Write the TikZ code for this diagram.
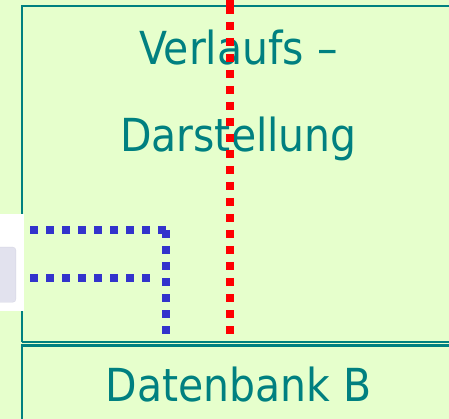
\documentclass[tikz,border=0pt]{standalone}
\usepackage{fontspec}
\setmainfont{DejaVu Sans Condensed}
\usepackage{xcolor}
\definecolor{bggreen}{HTML}{E6FFCC}
\definecolor{petrol}{HTML}{008080}
\definecolor{dotblue}{HTML}{3333CC}
\definecolor{panelfill}{HTML}{E2E2EE}
\definecolor{panelline}{HTML}{D6D6E4}

\begin{document}
\begin{tikzpicture}[x=1pt,y=-1pt,
    box/.style={rectangle,anchor=north west,inner sep=0pt,outer sep=0pt},
    frame/.style={petrol,line width=2.2pt},
    title/.style={text=petrol,anchor=base,font=\fontsize{45.5}{50}\selectfont,inner sep=0pt},
    bluedot/.style={dotblue,line width=8pt,dash pattern=on 8pt off 8pt},
    reddot/.style={red,line width=8pt,dash pattern=on 8pt off 8pt}]
    \useasboundingbox (0,0) rectangle (449,419);
    \clip (0,0) rectangle (449,419);
    \fill[bggreen] (-10,-10) rectangle (470,440);

    \node[box,minimum width=440pt,minimum height=336pt] (verlauf) at (22,6) {};
    \node[box,minimum width=440pt,minimum height=80pt] (datenbank) at (22,345.5) {};
    \draw[frame] (verlauf.south west) |- (verlauf.north east);
    \draw[frame] (verlauf.south west) -- (verlauf.south east);
    \draw[frame] (datenbank.south west) |- (datenbank.north east);

    \node[title] (verlauftxt) at (238.5,65) {Verlaufs –};
    \node[title] (darsttxt) at (238.5,152) {Darstellung};
    \node[title] (datentxt) at (238.5,401) {Datenbank B};

    \fill[white] (0,214) rectangle (23.5,311);
    \node[rectangle,draw=panelline,fill=panelfill,rounded corners=3pt,
          anchor=north east,minimum width=30pt,minimum height=55pt] (quelle) at (16,247) {};

    \coordinate (b1) at (30,230.5);
    \coordinate (knick) at (166,230.5);
    \coordinate (kante) at (166,230);
    \coordinate (unten) at (166,335);
    \coordinate (b2) at (30,278);
    \coordinate (b2end) at (150,278);
    \coordinate (rtop) at (230,0);
    \coordinate (rstub) at (230,10);
    \coordinate (rstart) at (230,-10);
    \coordinate (rbot) at (230,334);

    \draw[bluedot] (b1) -- (knick);
    \draw[bluedot] (kante) -- (unten);
    \draw[bluedot] (b2) -- (b2end);
    \draw[red,line width=8pt] (rtop) -- (rstub);
    \draw[reddot] (rstart) -- (rbot);
\end{tikzpicture}
\end{document}
